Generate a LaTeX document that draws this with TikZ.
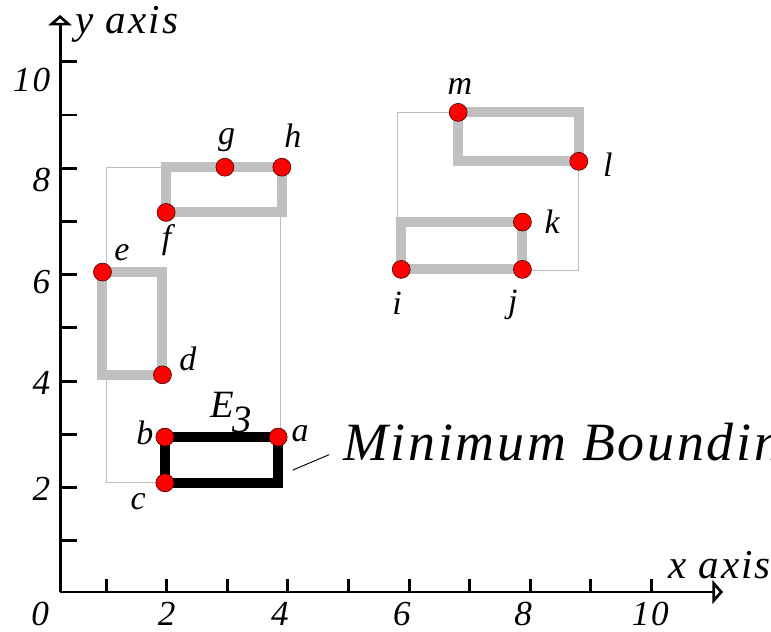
\documentclass[tikz,border=0pt]{standalone}
\usepackage{fontspec}
\setmainfont{Liberation Serif}[LetterSpace=5]
\usetikzlibrary{arrows.meta}
\definecolor{bandgray}{HTML}{C0C0C0}
\definecolor{boxgray}{HTML}{BDBDBD}
\definecolor{dotred}{HTML}{FF0000}
\newcommand{\itsize}[1]{\fontsize{#1}{#1}\selectfont\itshape}

\begin{document}
\begin{tikzpicture}[
  x=1.818cm,
  y=1.597cm,
  every node/.style={inner sep=0pt, black},
  axis/.style={black, line width=2.5pt, -{Triangle[open, length=9pt, width=20pt]}},
  tick/.style={black, line width=2.5pt},
  band/.style={bandgray, line width=8.5pt},
  query/.style={black, line width=8.5pt},
  mbrline/.style={boxgray, line width=0.8pt},
  leader/.style={black, line width=0.8pt},
  pt/.style={circle, fill=dotred, draw=black!75!red, line width=0.5pt,
             minimum size=0.54cm},
  letter/.style={font=\itsize{29pt}},
  num/.style={font=\itsize{30pt}},
  axname/.style={font=\itsize{35pt}}
]
  \useasboundingbox (-0.751,-0.710) rectangle (11.972,11.161);

  % ================= axes ===============================================
  \coordinate (O) at (0.24,0.04);
  \coordinate (ytip) at (0.24,10.88);
  \coordinate (xtip) at (11.18,0.04);
  \draw[axis] (O) -- (ytip);
  \draw[axis] (O) -- (xtip);

  \foreach \v in {1,...,10} {
    \draw[tick] (0.24,\v) -- ++(0.28,0);
    \draw[tick] (\v,0.04) -- ++(0,0.244);
  }

  % The labels on the y axis do not sit level with their ticks in the
  % drawing; they step down by about 1.9 units, not 2.
  \foreach \v/\y in {2/1.98, 4/3.97, 6/5.86, 8/7.78, 10/9.66}
    \node[num, anchor=east] (ny\v) at (0.08,\y) {\v};
  \foreach \v/\x in {0/-0.09, 2/2.0, 4/3.87, 6/5.88, 8/7.88, 10/9.98}
    \node[num] (nx\v) at (\x,-0.37) {\v};

  \node[axname, anchor=base west] (yname) at (0.49,10.54) {y axis};
  \node[axname, anchor=base west] (xname) at (10.27,0.30) {x axis};

  % ================= the points =========================================
  \foreach \n/\x/\y in {a/3.84/2.95, b/1.97/2.95, c/1.97/2.09, d/1.93/4.12,
                        e/0.94/6.05, f/1.99/7.17, g/2.96/8.02, h/3.90/8.02,
                        i/5.87/6.10, j/7.87/6.10, k/7.87/6.99, l/8.80/8.13,
                        m/6.81/9.05}
    \coordinate (p\n) at (\x,\y);

  % thin boxes round each group
  \draw[mbrline] (1.00,2.09) rectangle (3.87,8.02);
  \draw[mbrline] (5.80,6.08) rectangle (8.80,9.05);

  % the entries, grey, and E3 in black
  \draw[band] (pe) rectangle (pd);
  \draw[band] (pf) rectangle (ph);
  \draw[band] (pi) rectangle (pk);
  \draw[band] (pm) rectangle (pl);
  \draw[query] (pc) rectangle (pa);

  \foreach \n in {a,...,m}
    \node[pt] (\n) at (p\n) {};

  % ================= letters ============================================
  \node[letter] (ta) at (4.20,3.02) {a};
  \node[letter] (tb) at (1.64,3.02) {b};
  \node[letter] (tc) at (1.53,1.73) {c};
  \node[letter] (td) at (2.35,4.42) {d};
  \node[letter] (te) at (1.26,6.41) {e};
  \node[letter] (tf) at (2.00,6.65) {f};
  \node[letter] (tg) at (2.99,8.53) {g};
  \node[letter] (th) at (4.08,8.62) {h};
  \node[letter] (ti) at (5.80,5.47) {i};
  \node[letter] (tj) at (7.71,5.43) {j};
  \node[letter] (tk) at (8.36,6.99) {k};
  \node[letter] (tl) at (9.28,8.06) {l};
  \node[letter] (tm) at (6.84,9.53) {m};

  \node[font=\itsize{33pt}, anchor=base west] (tE) at (2.72,3.31)
    {E\kern-0.05em\raisebox{-0.37em}{3}};

  % The caption runs off the right edge of the page, as in the drawing.
  \node[font=\itsize{46pt}, anchor=base west] (mbr) at (4.91,2.51)
    {Minimum Bounding};
  \coordinate (lead) at (4.08,2.33);
  \draw[leader] (lead) -- ([shift={(-0.23,0.11)}]mbr.base west);
\end{tikzpicture}
\end{document}
